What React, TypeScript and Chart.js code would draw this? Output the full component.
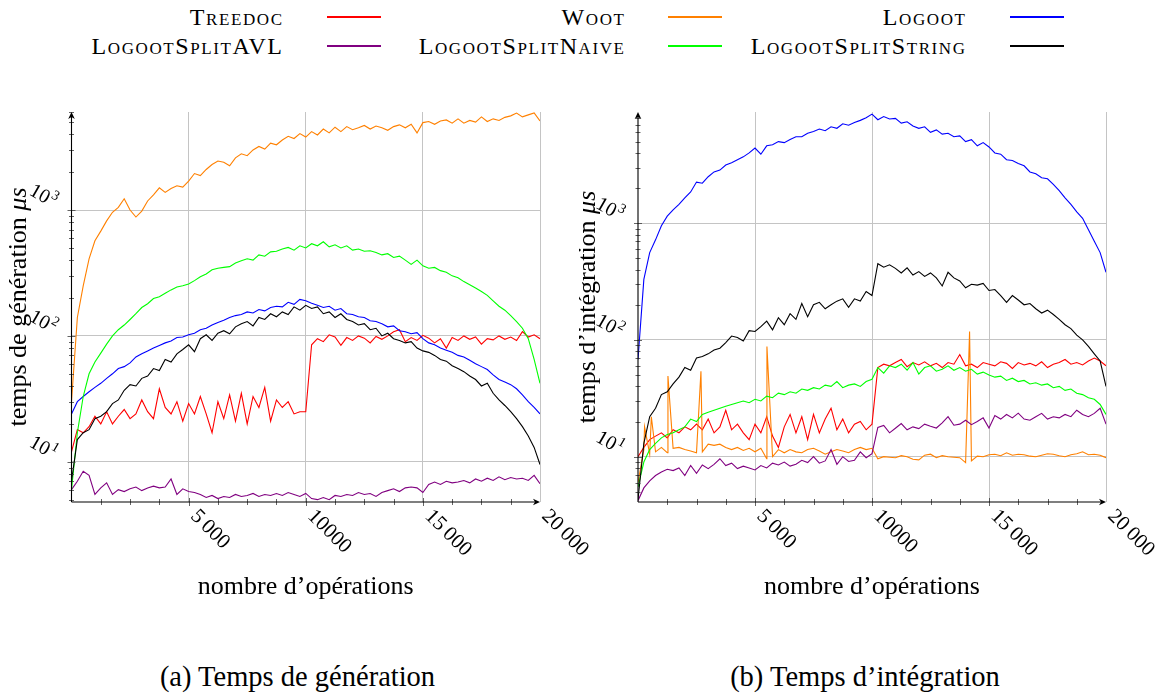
import React, { useEffect, useRef } from "react";
import { Chart, registerables } from "chart.js";

Chart.register(...registerables);

// ---------- categories / labels ----------
const SERIES_NAMES = ["Treedoc", "Woot", "Logoot", "LogootSplitAVL", "LogootSplitNaive", "LogootSplitString"];
const X_TICKS = [5000, 10000, 15000, 20000];
const X_TICK_LABELS = ["5\u2009000", "10000", "15\u2009000", "20\u2009000"];
const Y_TICKS = [10, 100, 1000];
const Y_TICK_EXPONENTS = ["1", "2", "3"];
const X_TITLE = "nombre d\u2019op\u00e9rations";
const Y_TITLE_GEN = "temps de g\u00e9n\u00e9ration ";
const Y_TITLE_INT = "temps d\u2019int\u00e9gration ";
const Y_TITLE_UNIT = "\u03bcs";
const CAPTION_GEN = "(a) Temps de g\u00e9n\u00e9ration";
const CAPTION_INT = "(b) Temps d\u2019int\u00e9gration";

// sample positions (number of operations), every 250 ops from 0 to 20000
const OPS = Array.from({ length: 81 }, (_, i) => i * 250);

// ---------- (a) generation time, µs ----------
const genTreedoc = [
  12, 18, 17, 19, 23, 20, 25, 20, 23, 26,
  22, 24, 31, 25, 22, 38, 27, 24, 30, 21,
  29, 24, 33, 24, 17, 30, 22, 34, 21, 35,
  20, 33, 27, 39, 21, 31, 27, 30, 24, 25,
  25, 85, 95, 90, 102, 98, 84, 97, 92, 100,
  96, 88, 99, 94, 100, 108, 112, 90, 97, 92,
  101, 96, 88, 95, 80, 97, 92, 100, 94, 98,
  86, 95, 93, 100, 94, 98, 92, 108, 98, 102,
  95,
];
const genWoot = [
  30, 140, 250, 410, 570, 680, 820, 960, 1050, 1230,
  1000, 880, 980, 1180, 1320, 1500, 1380, 1480, 1560, 1520,
  1700, 1950, 1880, 2100, 2300, 2450, 2400, 2250, 2600, 2800,
  2700, 3000, 3200, 3050, 3400, 3300, 3600, 3850, 3700, 4050,
  3800, 4200, 3950, 4400, 4100, 4550, 4200, 4600, 4350, 4500,
  4700, 4400, 4650, 4500, 4300, 4600, 4750, 4500, 4800, 4100,
  4950, 5050, 4800, 5100, 5200, 4900, 5300, 4900, 5150, 5000,
  5500, 5050, 5300, 5150, 5450, 5600, 5900, 5500, 5700, 5900,
  5100,
];
const genLogoot = [
  24, 30, 33, 36, 39, 42, 46, 50, 55, 57,
  61, 68, 72, 76, 80, 84, 88, 91, 97, 98,
  102, 105, 112, 115, 122, 128, 133, 140, 145, 148,
  155, 152, 162, 158, 168, 172, 170, 185, 178, 195,
  190, 182, 175, 168, 172, 160, 165, 150, 148, 142,
  140, 132, 130, 125, 118, 120, 110, 108, 104, 106,
  95, 88, 85, 80, 77, 74, 70, 68, 64, 60,
  57, 54, 49, 45, 43, 41, 38, 34, 30, 27,
  24,
];
const genAVL = [
  6.0, 7.0, 8.4, 7.8, 5.5, 6.2, 6.8, 5.5, 6.0, 5.8,
  6.1, 6.3, 5.9, 6.2, 6.4, 6.2, 6.3, 7.3, 5.5, 6.1,
  5.8, 5.7, 5.5, 5.2, 5.4, 5.1, 5.3, 5.2, 5.5, 5.3,
  5.4, 5.6, 5.3, 5.5, 5.4, 5.6, 5.4, 5.7, 5.5, 5.3,
  5.6, 5.1, 5.0, 5.2, 5.0, 5.4, 5.3, 5.5, 5.4, 5.7,
  5.5, 5.6, 5.3, 5.7, 5.9, 6.1, 5.8, 6.2, 6.3, 6.2,
  5.7, 6.6, 6.9, 6.6, 7.0, 6.8, 6.9, 7.1, 6.8, 7.3,
  7.0, 7.4, 7.1, 7.6, 7.2, 7.5, 7.3, 7.4, 7.1, 7.8,
  6.7,
];
const genNaive = [
  6, 17, 33, 50, 62, 73, 86, 100, 112, 122,
  135, 150, 168, 180, 198, 205, 218, 232, 245, 250,
  258, 275, 295, 310, 335, 345, 350, 355, 380, 395,
  410, 400, 440, 430, 465, 470, 490, 505, 480, 520,
  500, 540, 520, 560, 510, 530, 500, 520, 480, 490,
  470, 475, 460, 440, 450, 420, 430, 400, 370, 400,
  360, 345, 350, 330, 320, 300, 290, 270, 255, 240,
  225, 210, 190, 172, 160, 145, 130, 115, 95, 65,
  42,
];
const genString = [
  7, 15, 17, 18, 22, 23, 25, 29, 31, 37,
  41, 40, 46, 48, 55, 53, 65, 62, 72, 78,
  85, 75, 95, 102, 92, 105, 110, 104, 118, 125,
  130, 120, 140, 135, 150, 142, 155, 148, 170, 160,
  175, 165, 170, 150, 155, 140, 150, 135, 130, 122,
  125, 112, 115, 100, 105, 95, 92, 88, 90, 80,
  76, 74, 70, 65, 63, 58, 55, 52, 48, 45,
  40, 42, 35, 31, 28, 25, 22, 19, 16, 13,
  9.5,
];

// ---------- (b) integration time, µs ----------
const intTreedoc = [
  10, 12, 14, 15, 16, 14.5, 17, 16, 18, 17,
  19, 17, 21, 16, 18, 25, 17, 19, 16, 14,
  19, 16, 22, 15, 12, 18, 23, 16, 22, 14,
  23, 16, 21, 26, 17, 21, 16, 19, 20, 17,
  19, 58, 62, 60, 64, 68, 59, 64, 61, 65,
  60, 63, 58, 64, 62, 75, 60, 62, 58, 64,
  62, 60, 65, 63, 57, 64, 61, 63, 60, 65,
  58, 62, 64, 68, 62, 64, 61, 66, 70, 66,
  60,
];
const intWoot = [
  6, 11.5, 10.5, 11, 12, 10.8, 11.8, 12, 11.5, 11.2,
  10.8, 11, 12.8, 12.5, 12.8, 12, 11.5, 12, 11.3, 11.8,
  11, 11.8, 9.6, 10, 11.5, 10.8, 11.5, 11, 10.8, 11.5,
  11.8, 11.2, 10.5, 11, 11.5, 11.2, 10.8, 11.5, 12, 11.5,
  11.8, 9.6, 10, 9.9, 9.8, 10.2, 10, 9.5, 9.4, 10.3,
  10.5, 9.8, 10.2, 10, 9.9, 9.8, 8.9, 9.2, 10.1, 10,
  10.4, 10.5, 10.2, 10.8, 10.3, 10.5, 10.4, 10.1, 10, 10.3,
  10.6, 10.5, 10.2, 10, 10.4, 10.6, 11, 10.4, 10.5, 10.3,
  9.8,
];
// isolated Woot integration peaks: [ops, µs]
const intWootSpikes = [
  [280, 18], [570, 22], [1280, 49], [2690, 54], [5510, 88], [14170, 118],
];
const intLogoot = [
  68, 330, 560, 720, 950, 1150, 1300, 1450, 1650, 1850,
  2250, 2200, 2500, 2750, 2850, 3150, 3300, 3500, 3700, 4000,
  4400, 3900, 4600, 4700, 5000, 4900, 5200, 5500, 5500, 5900,
  6100, 6400, 6200, 6700, 6500, 7100, 6900, 7300, 7600, 8000,
  8600, 7700, 8200, 7800, 7900, 7200, 7400, 6800, 6500, 6700,
  6000, 6300, 5800, 5900, 5500, 5600, 5000, 5200, 4600, 4900,
  4500, 4000, 3900, 3500, 3450, 3250, 3100, 2750, 2650, 2450,
  2400, 2150, 1900, 1650, 1450, 1250, 1100, 880, 700, 560,
  380,
];
const intAVL = [
  4.2, 5.4, 6.2, 6.9, 7.4, 7.8, 7.6, 8.0, 6.9, 8.4,
  7.2, 8.5, 7.9, 8.6, 9.6, 8.4, 8.8, 7.9, 8.3, 8.0,
  7.7, 8.4, 8.0, 8.8, 8.5, 9.0, 8.3, 8.6, 9.3, 8.9,
  10.0, 8.8, 9.2, 11.5, 8.6, 10.0, 9.1, 9.3, 11.0, 9.8,
  10.6, 17.8, 18.5, 16.0, 17.5, 19.2, 17.0, 18.0, 17.4, 19.0,
  18.2, 17.6, 19.5, 22.0, 18.6, 19.0, 20.5, 18.8, 20.0, 21.5,
  17.6, 22.5, 21.0, 23.0, 21.5, 23.6, 21.0, 20.5, 22.0, 23.5,
  21.0, 22.0, 21.5, 23.0, 22.0, 25.0, 23.0, 22.0, 23.5, 26.0,
  19.0,
];
const intNaive = [
  5.5, 9, 11.5, 13, 14.5, 15.5, 16, 17, 18, 21,
  20, 23, 24, 25, 26, 27, 28, 29, 30, 29,
  31, 30, 33, 32, 35, 34, 36, 35, 38, 37,
  39, 38, 41, 40, 44, 39, 41, 42, 40, 44,
  46, 58, 52, 60, 58, 62, 55, 64, 51, 58,
  60, 54, 56, 60, 55, 58, 54, 56, 51, 53,
  50, 48, 49, 45, 47, 44, 45, 42, 43, 41,
  42, 39, 40, 37, 38, 35, 34, 32, 31, 28,
  23,
];
const intString = [
  4.3, 13, 22, 26, 34, 36, 42, 48, 58, 55,
  70, 72, 76, 82, 85, 95, 108, 105, 98, 120,
  118, 130, 145, 122, 155, 135, 168, 150, 205, 158,
  200, 210, 185, 200, 215, 225, 190, 225, 215, 260,
  240, 450, 420, 440, 410, 375, 415, 360, 385, 350,
  375, 340, 290, 380, 340, 320, 280, 300, 295, 305,
  265, 270, 240, 210, 240, 220, 200, 205, 185, 170,
  180, 165, 150, 135, 125, 110, 100, 88, 76, 66,
  40,
];

// ---------- styles ----------
const SERIES_COLORS = ["#ff0000", "#ff8000", "#0000ff", "#800080", "#00ff00", "#000000"];
const FONT = "'Liberation Serif', 'Times New Roman', serif";
const GRID_COLOR = "#c4c4c4";

function toPoints(values: number[], extra: number[][] = []) {
  const pts = values.map((v, i) => ({ x: OPS[i], y: v }));
  extra.forEach(([x, y]) => pts.push({ x, y }));
  pts.sort((a, b) => a.x - b.x);
  return pts;
}

function drawArrow(ctx: CanvasRenderingContext2D, x: number, y: number, angle: number) {
  ctx.save();
  ctx.translate(x, y);
  ctx.rotate(angle);
  ctx.beginPath();
  ctx.moveTo(0, 0);
  ctx.lineTo(-7, -3.3);
  ctx.lineTo(-5, 0);
  ctx.lineTo(-7, 3.3);
  ctx.closePath();
  ctx.fill();
  ctx.restore();
}

function makeAxesPlugin(yTitle: string, yTitleDx: number) {
  return {
    id: "pgfAxes",
    afterDraw(chart: any) {
      const ctx: CanvasRenderingContext2D = chart.ctx;
      const a = chart.chartArea;
      const xs = chart.scales.x;
      const ys = chart.scales.y;
      ctx.save();

      // tick marks
      ctx.strokeStyle = "#3c3c3c";
      ctx.lineWidth = 0.8;
      ctx.beginPath();
      for (let e = 0; e <= 4; e++) {
        for (let m = 1; m <= 9; m++) {
          const v = m * Math.pow(10, e);
          if (v < ys.min || v > ys.max) continue;
          const py = Math.round(ys.getPixelForValue(v)) + 0.5;
          const len = m === 1 ? 4 : 2.5;
          ctx.moveTo(a.left - len, py);
          ctx.lineTo(a.left + len, py);
        }
      }
      for (let v = 1250; v < 20000; v += 1250) {
        const px = Math.round(xs.getPixelForValue(v)) + 0.5;
        const len = v % 5000 === 0 ? 4 : 3;
        ctx.moveTo(px, a.bottom - len);
        ctx.lineTo(px, a.bottom + len);
      }
      ctx.stroke();

      // axis lines with arrows
      ctx.strokeStyle = "#000";
      ctx.fillStyle = "#000";
      ctx.lineWidth = 1.1;
      ctx.beginPath();
      ctx.moveTo(a.left, a.bottom);
      ctx.lineTo(a.left, a.top + 4);
      ctx.moveTo(a.left, a.bottom);
      ctx.lineTo(a.right - 4, a.bottom);
      ctx.stroke();
      drawArrow(ctx, a.left, a.top, -Math.PI / 2);
      drawArrow(ctx, a.right, a.bottom, 0);

      // y tick labels (rotated)
      Y_TICKS.forEach((v, i) => {
        if (v < ys.min || v > ys.max) return;
        const py = ys.getPixelForValue(v);
        ctx.save();
        ctx.translate(a.left - 19, py - 2);
        ctx.rotate(Math.PI / 6);
        ctx.textBaseline = "alphabetic";
        ctx.textAlign = "left";
        ctx.font = `14px ${FONT}`;
        const we = ctx.measureText(Y_TICK_EXPONENTS[i]).width;
        ctx.font = `20px ${FONT}`;
        const wb = ctx.measureText("10").width;
        ctx.fillText("10", -we - wb - 1, 0);
        ctx.font = `14px ${FONT}`;
        ctx.fillText(Y_TICK_EXPONENTS[i], -we, -8);
        ctx.restore();
      });

      // x tick labels (rotated)
      ctx.font = `21px ${FONT}`;
      X_TICKS.forEach((v, i) => {
        const px = xs.getPixelForValue(v);
        ctx.save();
        ctx.translate(px + 5, a.bottom + 11);
        ctx.rotate(Math.PI / 4);
        ctx.textAlign = "left";
        ctx.textBaseline = "middle";
        ctx.fillText(X_TICK_LABELS[i], 0, 0);
        ctx.restore();
      });

      // x title
      ctx.font = `26px ${FONT}`;
      ctx.textAlign = "center";
      ctx.textBaseline = "alphabetic";
      ctx.fillText(X_TITLE, (a.left + a.right) / 2, a.bottom + 92);

      // y title
      ctx.save();
      ctx.translate(a.left + yTitleDx, (a.top + a.bottom) / 2);
      ctx.rotate(-Math.PI / 2);
      ctx.textAlign = "left";
      ctx.textBaseline = "middle";
      ctx.font = `26px ${FONT}`;
      const w1 = ctx.measureText(yTitle).width;
      ctx.font = `italic 26px ${FONT}`;
      const w2 = ctx.measureText(Y_TITLE_UNIT).width;
      const start = -(w1 + w2) / 2;
      ctx.font = `26px ${FONT}`;
      ctx.fillText(yTitle, start, 0);
      ctx.font = `italic 26px ${FONT}`;
      ctx.fillText(Y_TITLE_UNIT, start + w1, 0);
      ctx.restore();

      ctx.restore();
    },
  };
}

type PanelProps = {
  series: { x: number; y: number }[][];
  yMin: number;
  yMax: number;
  yAxisWidth: number;
  padRight: number;
  yTitle: string;
  yTitleDx: number;
  width: number;
  left: number;
};

function Panel(p: PanelProps) {
  const ref = useRef<HTMLCanvasElement | null>(null);
  useEffect(() => {
    if (!ref.current) return;
    const datasets = p.series.map((pts, i) => ({
      label: SERIES_NAMES[i],
      data: pts,
      borderColor: SERIES_COLORS[i],
      backgroundColor: SERIES_COLORS[i],
      borderWidth: 1.1,
      pointRadius: 0,
      tension: 0,
      fill: false,
      order: SERIES_NAMES.length - 1 - i,
    }));
    const chart = new Chart(ref.current, {
      type: "line",
      data: { datasets },
      options: {
        animation: false,
        responsive: false,
        maintainAspectRatio: false,
        devicePixelRatio: 1,
        events: [],
        layout: { padding: { left: 0, right: p.padRight, top: 32, bottom: 0 } },
        plugins: { legend: { display: false }, tooltip: { enabled: false }, title: { display: false } },
        scales: {
          x: {
            type: "linear",
            min: 0,
            max: 20000,
            afterBuildTicks: (s: any) => { s.ticks = X_TICKS.map((v) => ({ value: v })); },
            afterFit: (s: any) => { s.height = 138; },
            grid: { color: GRID_COLOR, lineWidth: 1, drawTicks: false },
            border: { display: false },
            ticks: { display: false },
          },
          y: {
            type: "logarithmic",
            min: p.yMin,
            max: p.yMax,
            afterBuildTicks: (s: any) => { s.ticks = Y_TICKS.map((v) => ({ value: v })); },
            afterFit: (s: any) => { s.width = p.yAxisWidth; },
            grid: { color: GRID_COLOR, lineWidth: 1, drawTicks: false },
            border: { display: false },
            ticks: { display: false },
          },
        },
      } as any,
      plugins: [makeAxesPlugin(p.yTitle, p.yTitleDx)],
    });
    return () => chart.destroy();
  }, []);
  return (
    <canvas
      ref={ref}
      width={p.width}
      height={560}
      style={{ position: "absolute", left: p.left, top: 80, width: p.width, height: 560 }}
    />
  );
}

const LEGEND_TEXT_RIGHT = [282, 624, 965];
const LEGEND_LINE_LEFT = [327, 668, 1010];
const LEGEND_ROW_BASELINE = [25, 54];
const LEGEND_ROW_LINE = [16, 45];

export default function App() {
  const genSeries = [genTreedoc, genWoot, genLogoot, genAVL, genNaive, genString].map((s) => toPoints(s));
  const intSeries = [
    toPoints(intTreedoc),
    toPoints(intWoot, intWootSpikes),
    toPoints(intLogoot),
    toPoints(intAVL),
    toPoints(intNaive),
    toPoints(intString),
  ];
  return (
    <div style={{ position: "absolute", left: 0, top: 0, width: 1158, height: 695, background: "#fff", fontFamily: FONT, color: "#000", overflow: "hidden" }}>
      {SERIES_NAMES.map((name, i) => {
        const col = i % 3;
        const row = Math.floor(i / 3);
        return (
          <React.Fragment key={name}>
            <div
              style={{
                position: "absolute",
                right: 1158 - LEGEND_TEXT_RIGHT[col] - 1.6,
                top: LEGEND_ROW_BASELINE[row] - 20.1,
                fontSize: 24,
                lineHeight: "24px",
                fontVariant: "small-caps",
                letterSpacing: "1.6px",
                whiteSpace: "nowrap",
              }}
            >
              {name}
            </div>
            <div
              style={{
                position: "absolute",
                left: LEGEND_LINE_LEFT[col],
                top: LEGEND_ROW_LINE[row],
                width: 54,
                height: 2,
                background: SERIES_COLORS[i],
              }}
            />
          </React.Fragment>
        );
      })}
      <Panel series={genSeries} yMin={4.79} yMax={6010} yAxisWidth={71.5} padRight={60} yTitle={Y_TITLE_GEN} yTitleDx={-52} width={600} left={0} />
      <Panel series={intSeries} yMin={4.09} yMax={8965} yAxisWidth={59} padRight={52} yTitle={Y_TITLE_INT} yTitleDx={-50} width={579} left={579} />
      <div style={{ position: "absolute", left: 97.5, width: 400, top: 663, textAlign: "center", fontSize: 28.5, lineHeight: "28.5px", whiteSpace: "nowrap" }}>{CAPTION_GEN}</div>
      <div style={{ position: "absolute", left: 665, width: 400, top: 663, textAlign: "center", fontSize: 28.5, lineHeight: "28.5px", whiteSpace: "nowrap" }}>{CAPTION_INT}</div>
    </div>
  );
}
